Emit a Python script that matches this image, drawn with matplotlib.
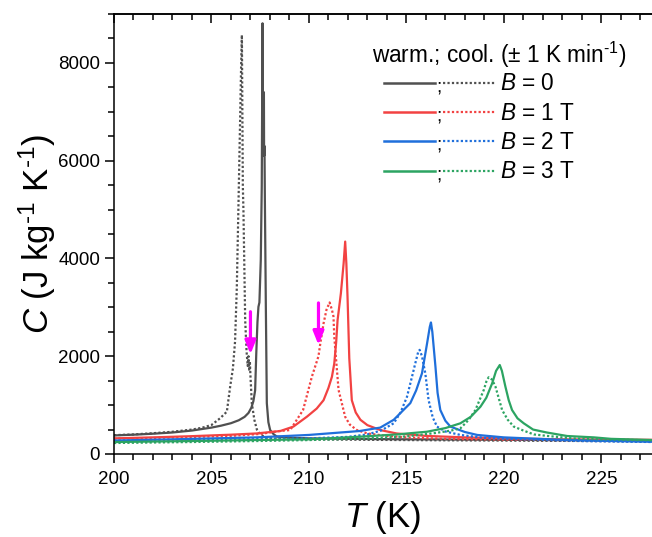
import matplotlib
matplotlib.use("Agg")
import matplotlib.pyplot as plt
from matplotlib.legend_handler import HandlerBase
from matplotlib.lines import Line2D
from matplotlib.text import Text
from matplotlib.ticker import MultipleLocator

plt.rcParams['font.family'] = ['Liberation Sans', 'DejaVu Sans']
plt.rcParams['mathtext.fontset'] = 'custom'
plt.rcParams['mathtext.rm'] = 'Liberation Sans'
plt.rcParams['mathtext.it'] = 'Liberation Sans:italic'

# B = 0, warming / cooling
T_b0_warm = [200, 201, 202, 203, 204, 205, 205.5, 206, 206.4, 206.7, 206.9, 207.05, 207.15,
             207.24, 207.3, 207.36, 207.41, 207.46, 207.53, 207.58, 207.62, 207.65, 207.69,
             207.7, 207.72, 207.74, 207.79, 207.84, 207.92, 208.01, 208.2, 208.36, 209, 210,
             212, 215, 220, 225, 227.6]
C_b0_warm = [380, 395, 415, 440, 480, 540, 580, 630, 690, 760, 840, 950, 1080,
             1300, 2070, 2700, 3010, 3100, 3970, 5470, 8810, 6300, 7400,
             6100, 6300, 5200, 3000, 1040, 650, 490, 400, 355, 335, 320,
             310, 300, 290, 280, 275]
T_b0_cool = [200, 201, 202, 203, 204, 204.5, 205, 205.44, 205.79, 205.96, 206.1, 206.21, 206.3,
             206.38, 206.47, 206.52, 206.56, 206.61, 206.64, 206.73, 206.8, 206.86, 206.9,
             206.94, 206.97, 207.0, 207.07, 207.2, 207.33, 207.5, 207.84, 208.5, 210, 213,
             217, 222, 227.6]
C_b0_cool = [385, 400, 425, 455, 500, 535, 593, 730, 866, 1380, 1750, 2300, 3400,
             4990, 6830, 7900, 8570, 5470, 4990, 2740, 2100, 1800, 2000,
             1700, 1900, 1600, 1040, 700, 500, 400, 330, 310, 300, 290,
             280, 270, 260]

# B = 1 T
T_b1_warm = [200, 202, 204, 206, 207.3, 208.53, 209.2, 209.9, 210.4, 210.75, 211.0, 211.18, 211.3,
             211.4, 211.47, 211.64, 211.78, 211.86, 211.92, 211.98, 212.07, 212.2, 212.4, 212.64,
             213.0, 213.66, 214.5, 216, 218, 220, 223, 227.6]
C_b1_warm = [320, 340, 365, 395, 420, 470, 560, 764, 930, 1100, 1350, 1580, 1850,
             2300, 2740, 3290, 3900, 4345, 3900, 3220, 1960, 1100, 850, 700,
             590, 490, 420, 370, 340, 320, 300, 290]
T_b1_cool = [200, 203, 206, 207.5, 208.5, 209.04, 209.7, 210.15, 210.49, 210.58, 210.75, 210.9,
             211.06, 211.18, 211.26, 211.3, 211.38, 211.52, 211.86, 212.1, 212.46, 213, 214, 215,
             217, 220, 224, 227.6]
C_b1_cool = [315, 335, 370, 410, 470, 490, 900, 1580, 2000, 2250, 2670, 2950,
             3100, 2950, 2810, 2400, 2000, 1310, 760, 600, 490, 420, 370, 340,
             310, 295, 280, 270]

# B = 2 T
T_b2_warm = [200, 203, 207.3, 210, 212.6, 213.66, 214.35, 215.2, 215.5, 215.8, 216.06, 216.2,
             216.26, 216.33, 216.49, 216.6, 216.74, 217.0, 217.26, 218.0, 218.63, 220, 221.2,
             223, 225, 227.6]
C_b2_warm = [275, 300, 340, 390, 470, 540, 700, 1040, 1300, 1650, 2260, 2600,
             2690, 2500, 1790, 1250, 900, 680, 560, 450, 390, 340, 320,
             290, 270, 250]
T_b2_cool = [200, 205, 210, 212, 213, 213.7, 214.35, 214.7, 215.03, 215.3, 215.46, 215.6, 215.68,
             215.8, 215.97, 216.14, 216.35, 216.57, 217, 217.77, 219, 221, 224, 227.6]
C_b2_cool = [270, 290, 320, 350, 400, 480, 628, 850, 1170, 1600, 1860, 2080, 2130,
             2000, 1650, 1100, 750, 560, 460, 390, 330, 300, 265, 245]

# B = 3 T
T_b3_warm = [200, 204, 207.3, 210, 212.63, 214.5, 216.06, 217, 217.77, 218.3, 218.8, 219.1,
             219.4, 219.6, 219.79, 219.9, 220.08, 220.25, 220.42, 220.7, 221.02, 221.5, 222.2,
             223.25, 224.62, 225.5, 227.6]
C_b3_warm = [245, 265, 286, 300, 355, 400, 456, 530, 628, 760, 968, 1150,
             1446, 1700, 1820, 1700, 1377, 1100, 900, 730, 628, 500, 440,
             368, 340, 310, 286]
T_b3_cool = [200, 204, 207.3, 210, 213, 215, 216.5, 217.3, 217.77, 218.2, 218.54, 218.97, 219.1,
             219.22, 219.4, 219.57, 219.91, 220.2, 220.51, 221.0, 221.54, 222.22, 223.5, 225,
             227.6]
C_b3_cool = [225, 245, 265, 285, 320, 360, 430, 480, 525, 700, 900, 1310, 1480,
             1570, 1520, 1377, 900, 700, 560, 480, 400, 370, 320, 300, 280]

field_labels = ['$B$ = 0', '$B$ = 1 T', '$B$ = 2 T', '$B$ = 3 T']
colors = ['#505050', '#f24242', '#1f6fdb', '#2ca462']

# magenta arrows marking the kinks on cooling
arrow_T = [207.0, 210.49]
arrow_top = [2910, 3090]
arrow_tip = [2040, 2230]

series = [
    (T_b0_warm, C_b0_warm, T_b0_cool, C_b0_cool),
    (T_b1_warm, C_b1_warm, T_b1_cool, C_b1_cool),
    (T_b2_warm, C_b2_warm, T_b2_cool, C_b2_cool),
    (T_b3_warm, C_b3_warm, T_b3_cool, C_b3_cool),
]


class SemicolonHandler(HandlerBase):
    # solid line ; dotted line
    def create_artists(self, legend, orig_handle, xdescent, ydescent, width, height, fontsize, trans):
        solid, dotted = orig_handle
        y = height / 2 - ydescent
        x0 = -xdescent
        l1 = Line2D([x0, x0 + 0.46 * width], [y, y], color=solid.get_color(), lw=1.8)
        sc = Text(x0 + 0.495 * width, y - 3, ';', ha='center', va='center', fontsize=fontsize * 0.85,
                  family='Liberation Sans')
        l2 = Line2D([x0 + 0.53 * width, x0 + width], [y, y], color=dotted.get_color(), lw=1.6,
                    linestyle=(0, (1, 1)))
        for a in (l1, sc, l2):
            a.set_transform(trans)
        return [l1, sc, l2]


fig = plt.figure(figsize=(6.52, 5.37), dpi=100)
ax = fig.add_axes([114 / 652, 83 / 537, 538 / 652, 440 / 537])

handles = []
for (tw, cw, tc, cc), col in zip(series, colors):
    hc, = ax.plot(tc, cc, color=col, lw=1.6, linestyle=(0, (1, 1)))
    hw, = ax.plot(tw, cw, color=col, lw=1.6)
    handles.append((hw, hc))

for x, y0, y1 in zip(arrow_T, arrow_top, arrow_tip):
    ax.annotate('', xy=(x, y1), xytext=(x, y0),
                arrowprops=dict(arrowstyle='-|>,head_length=0.8,head_width=0.32', color='#ff00ff',
                                lw=2.3, shrinkA=0, shrinkB=0))

ax.set_xlim(200, 227.6)
ax.set_ylim(0, 9000)
ax.xaxis.set_major_locator(MultipleLocator(5))
ax.xaxis.set_minor_locator(MultipleLocator(1))
ax.yaxis.set_major_locator(MultipleLocator(2000))
ax.yaxis.set_minor_locator(MultipleLocator(500))
ax.spines['right'].set_visible(False)
for s in ax.spines.values():
    s.set_linewidth(1.1)

ax.tick_params(axis='both', which='both', labelsize=13.5, width=1.1, direction='out')
ax.tick_params(axis='both', which='major', length=6.5)
ax.tick_params(axis='both', which='minor', length=4)
ax.tick_params(axis='x', which='major', pad=6)

# top axis: ticks pointing inwards, no labels
top = ax.secondary_xaxis('top')
top.xaxis.set_major_locator(MultipleLocator(5))
top.xaxis.set_minor_locator(MultipleLocator(1))
top.tick_params(axis='x', which='both', direction='in', width=1.1, labeltop=False)
top.tick_params(axis='x', which='major', length=6.5)
top.tick_params(axis='x', which='minor', length=4)
top.spines['top'].set_linewidth(1.1)

ax.set_xlabel('$T$ (K)', fontsize=25, labelpad=8)
ax.set_ylabel('$C$ (J kg$^{\\text{-}1}$ K$^{\\text{-}1}$)', fontsize=25, labelpad=0)

leg = ax.legend(handles, field_labels, handler_map={tuple: SemicolonHandler()},
                title='warm.; cool. ($\\pm$ 1 K min$^{\\text{-}1}$)', title_fontsize=16.3, fontsize=16.3,
                loc='upper left', bbox_to_anchor=(0.459, 0.966), frameon=False,
                handlelength=4.9, handletextpad=0.22, labelspacing=0.28, borderpad=0)
# entries sit slightly indented under the title and close to it
leg._legend_box.align = 'left'
leg._legend_handle_box.pad = 8.6
leg._legend_box.sep = -7.2

fig.savefig('out.png', dpi=100)
